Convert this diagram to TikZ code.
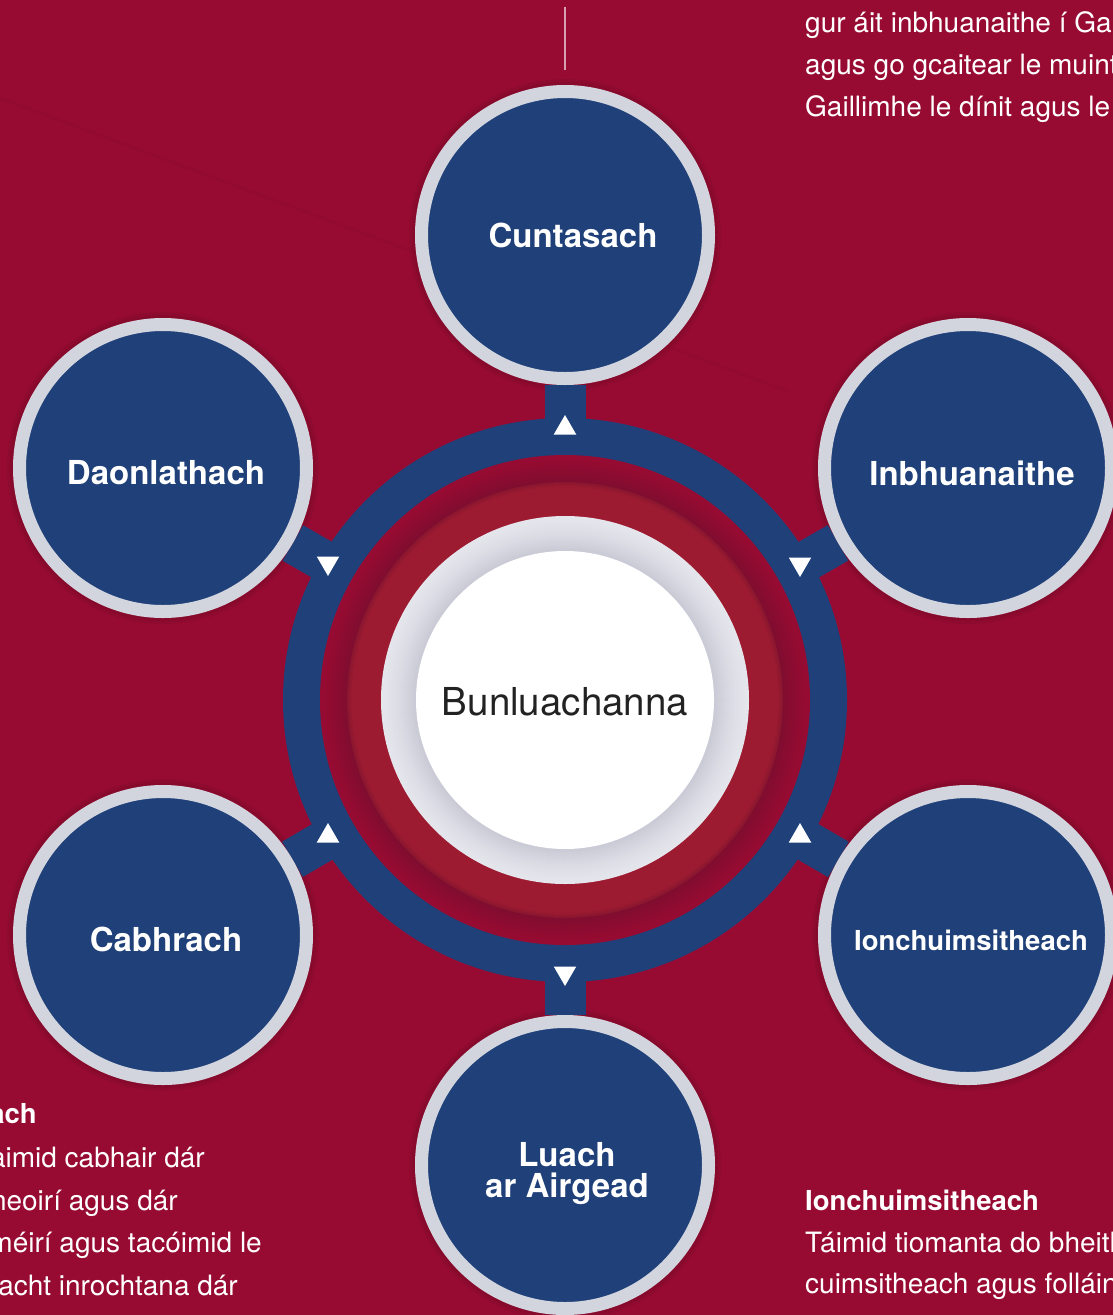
\documentclass[tikz,border=0pt]{standalone}
\usepackage{fontspec}
\setmainfont{TeX Gyre Heros}
\usetikzlibrary{shapes.geometric}
\definecolor{bgred}{RGB}{151,11,50}
\definecolor{navy}{RGB}{31,64,121}
\definecolor{ringgrey}{RGB}{210,213,222}
\definecolor{litered}{RGB}{156,27,49}
\definecolor{darkred}{RGB}{116,14,46}
\definecolor{edgered}{RGB}{138,22,47}
\definecolor{greyin}{RGB}{202,203,214}
\definecolor{greyout}{RGB}{229,230,236}
\definecolor{textdark}{RGB}{34,34,34}
\definecolor{lineP}{RGB}{214,160,176}
\pgfdeclarelayer{back}
\pgfdeclarelayer{bars}
\pgfdeclarelayer{mid}
\pgfsetlayers{back,bars,mid,main}
\tikzset{
  valnode/.style={circle, minimum size=287pt, inner sep=0pt, fill=navy, draw=ringgrey,
    line width=13pt},
  vallabel/.style={text=white, align=center, inner sep=0pt,
    font=\bfseries\fontsize{33}{31}\selectfont},
  barline/.style={navy, line width=41pt},
  arrowtri/.style={regular polygon, regular polygon sides=3, minimum size=26pt,
    inner sep=0pt, fill=white},
  downtri/.style={arrowtri, shape border rotate=180},
  paratext/.style={text=white, inner sep=0pt, font=\fontsize{28}{42}\selectfont},
  parahead/.style={text=white, inner sep=0pt, font=\bfseries\fontsize{27.5}{42}\selectfont},
  halo/.style={fill=black, opacity=0.05},
}
\begin{document}
\begin{tikzpicture}[x=1pt, y=-1pt]
\useasboundingbox (0,0) rectangle (1113,1315);
\begin{pgfonlayer}{back}
  \fill[bgred] (0,0) rectangle (1113,1315);
  \draw[black, opacity=0.025, line width=3pt] (0,98) -- (790,392);
  \foreach \p in {(565,235),(163,468),(968,468),(163,935),(968,935),(565,1165)}{
    \fill[halo] \p circle (156pt);
    \fill[halo] \p circle (153pt);
  }
  \fill[navy] (565,700) circle (282pt);
\end{pgfonlayer}
\begin{pgfonlayer}{mid}
  % shadowed red zone between blue ring and lighter disc
  \foreach \i in {0,...,27}{
    \pgfmathsetmacro{\rr}{245-\i}
    \pgfmathsetmacro{\mm}{100-70*(\i/27)^1.4}
    \fill[bgred!\mm!darkred] (565,700) circle (\rr pt);
  }
  % lighter red disc with a thin darker rim
  \foreach \i in {0,...,5}{
    \pgfmathsetmacro{\rr}{218-\i}
    \pgfmathsetmacro{\mm}{100*(\i/5)}
    \fill[litered!\mm!edgered] (565,700) circle (\rr pt);
  }
  % grey ring shading toward the white disc
  \foreach \i in {0,...,33}{
    \pgfmathsetmacro{\rr}{184-\i}
    \pgfmathsetmacro{\mm}{100*(\i/33)^1.5}
    \fill[greyin!\mm!greyout] (565,700) circle (\rr pt);
  }
  \node[circle, minimum size=298pt, inner sep=0pt, fill=white] (cent) at (565,700) {};
  \node[text=textdark, inner sep=0pt, font=\fontsize{38.5}{40}\selectfont,
    yshift=-2pt] (centtext) at (cent.center) {Bunluachanna};
\end{pgfonlayer}
% outer value circles
\node[valnode, label={[vallabel, xshift=8pt]center:Cuntasach}] (cunt) at (565,235) {};
\node[valnode, label={[vallabel, xshift=3pt, yshift=-5pt]center:Daonlathach}] (daon) at (163,468) {};
\node[valnode, label={[vallabel, xshift=4pt, yshift=-5pt]center:Inbhuanaithe}] (inbh) at (968,468) {};
\node[valnode, label={[vallabel, xshift=3pt, yshift=-4pt]center:Cabhrach}] (cabh) at (163,935) {};
\node[valnode, label={[vallabel, xshift=3pt, yshift=-5pt, font=\bfseries\fontsize{27.5}{30}\selectfont]center:Ionchuimsitheach}] (ionc) at (968,935) {};
\node[valnode, label={[vallabel, xshift=2pt, yshift=-9pt]center:Luach\\ar Airgead}] (luach) at (565,1165) {};
% connector bars
\begin{pgfonlayer}{bars}
  \draw[barline] (cent) -- (cunt);
  \draw[barline] (cent) -- (daon);
  \draw[barline] (cent) -- (inbh);
  \draw[barline] (cent) -- (cabh);
  \draw[barline] (cent) -- (ionc);
  \draw[barline] (cent) -- (luach);
\end{pgfonlayer}
% arrow triangles
\node[arrowtri] (t1) at (565,428) {};
\node[downtri] (t2) at (565,973) {};
\node[downtri] (t3) at (328,563) {};
\node[downtri] (t4) at (800,564) {};
\node[arrowtri] (t5) at (328,836) {};
\node[arrowtri] (t6) at (800,836) {};
% top thin line
\coordinate (la) at (565,7);
\coordinate (lb) at (565,70);
\draw[lineP, line width=1.5pt] (la) -- (lb);
% paragraph fragments
\begin{scope}
  \clip (0,0) rectangle (1113,1315);
  \node[paratext, anchor=base west] (tr1) at (805,32) {gur áit inbhuanaithe í Gai};
  \node[paratext, anchor=base west] (tr2) at (805,74) {agus go gcaitear le muint};
  \node[paratext, anchor=base west] (tr3) at (805,116) {Gaillimhe le dínit agus le};
  \node[parahead, anchor=base east] (bl0) at (37,1123) {ach};
  \node[paratext, anchor=base east] (bl1) at (205,1167) {aimid cabhair dár};
  \node[paratext, anchor=base east] (bl2) at (178,1210) {heoirí agus dár};
  \node[paratext, anchor=base east] (bl3) at (262,1252) {méirí agus tacóimid le};
  \node[paratext, anchor=base east] (bl4) at (238,1295) {lacht inrochtana dár};
  \node[parahead, anchor=base west] (br0) at (805,1210) {Ionchuimsitheach};
  \node[paratext, anchor=base west] (br1) at (805,1252) {Táimid tiomanta do bheith};
  \node[paratext, anchor=base west] (br2) at (805,1293) {cuimsitheach agus folláin};
\end{scope}
\end{tikzpicture}
\end{document}
